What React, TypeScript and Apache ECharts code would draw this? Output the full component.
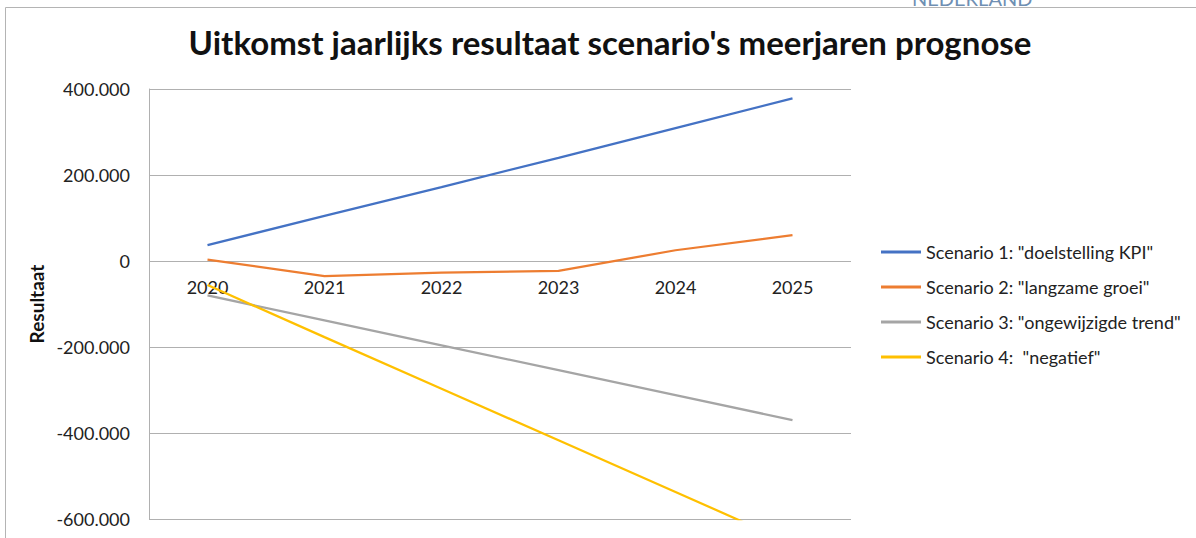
import React, { useEffect, useRef } from "react";
import * as echarts from "echarts";

const years = ["2020", "2021", "2022", "2023", "2024", "2025"];
const seriesNames = [
  'Scenario 1: "doelstelling KPI"',
  'Scenario 2: "langzame groei"',
  'Scenario 3: "ongewijzigde trend"',
  'Scenario 4:  "negatief"',
];
const scenario1 = [37000, 105000, 172000, 240000, 309000, 378000];
const scenario2 = [3000, -35000, -27000, -23000, 25000, 60000];
const scenario3 = [-80000, -138000, -196000, -254000, -312000, -370000];
const scenario4 = [-56000, -177000, -297000, -417000, -537000, -658000];
const colors = ["#4472C4", "#ED7D31", "#A5A5A5", "#FFC000"];
const title = "Uitkomst jaarlijks resultaat scenario's meerjaren prognose";
const yName = "Resultaat";

function fmt(v: number): string {
  const neg = v < 0;
  const s = String(Math.abs(Math.round(v)));
  const out = s.replace(/\B(?=(\d{3})+(?!\d))/g, ".");
  return (neg ? "-" : "") + out;
}

export default function App() {
  const ref = useRef<HTMLDivElement>(null);
  useEffect(() => {
    if (!ref.current) return;
    const chart = echarts.init(ref.current, null, { renderer: "svg" });
    const font = "Lato, 'Open Sans', sans-serif";
    const data = [scenario1, scenario2, scenario3, scenario4];
    chart.setOption({
      animation: false,
      backgroundColor: "#ffffff",
      title: {
        text: title,
        left: 605,
        textAlign: "center",
        top: 20,
        textStyle: { fontFamily: font, fontWeight: "bold", fontSize: 33, color: "#111" },
      },
      graphic: [
        {
          type: "polyline",
          shape: { points: [[5.5, 600], [5.5, 7.5], [1200, 7.5]] },
          style: { stroke: "#b4b4b4", lineWidth: 1, fill: "none" },
        },
        {
          type: "text",
          x: 912,
          y: -12,
          style: { text: "NEDERLAND", fontSize: 20, fontFamily: font, fill: "#6f8fb3" },
        },
      ],
      legend: {
        orient: "vertical",
        left: 881,
        top: 243,
        padding: 0,
        itemWidth: 40,
        itemHeight: 3,
        itemGap: 17,
        icon: "rect",
        textStyle: { fontFamily: font, fontSize: 18, color: "#222" },
        data: seriesNames,
      },
      grid: { left: 149, top: 89, right: 345, bottom: 19, outerBoundsMode: "none", containLabel: false },
      xAxis: {
        type: "category",
        data: years,
        boundaryGap: true,
        offset: -258,
        axisLine: { onZero: false, show: false },
        axisTick: { show: false },
        axisLabel: { margin: 17, fontFamily: font, fontSize: 18, color: "#222" },
      },
      yAxis: {
        type: "value",
        min: -600000,
        max: 400000,
        interval: 200000,
        name: yName,
        nameLocation: "middle",
        nameGap: 96,
        nameTextStyle: { fontFamily: font, fontSize: 19, fontWeight: "bold", color: "#111" },
        axisLine: { show: true, lineStyle: { color: "#b0b0b0" } },
        axisTick: { show: false },
        axisLabel: {
          margin: 19,
          fontFamily: font,
          fontSize: 18,
          color: "#222",
          formatter: (v: number) => fmt(v),
        },
        splitLine: { show: true, lineStyle: { color: "#b0b0b0", width: 1 } },
      },
      series: data.map((d, i) => ({
        name: seriesNames[i],
        type: "line",
        data: d,
        showSymbol: false,
        symbol: "none",
        clip: true,
        lineStyle: { color: colors[i], width: 2.25 },
        itemStyle: { color: colors[i] },
      })),
    });
    return () => chart.dispose();
  }, []);
  return (
    <div
      ref={ref}
      style={{ position: "fixed", left: 0, top: 0, width: 1196, height: 538 }}
    />
  );
}
